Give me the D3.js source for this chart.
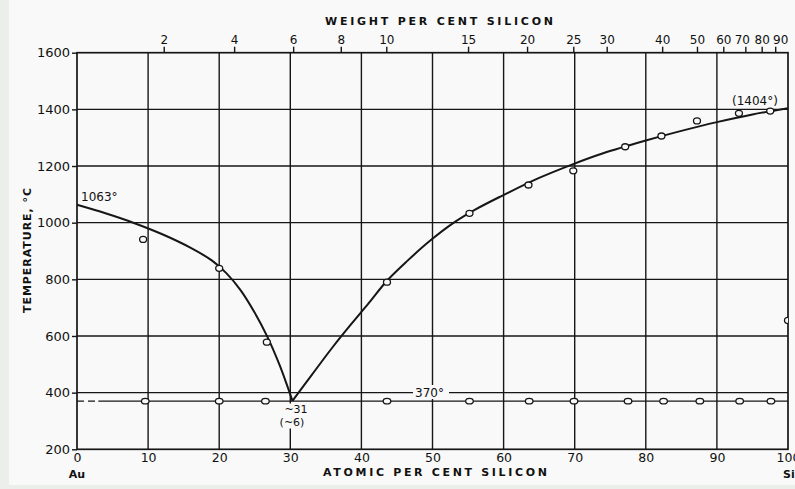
<!DOCTYPE html>
<html>
<head>
<meta charset="utf-8">
<script src="https://cdn.jsdelivr.net/npm/d3@7/dist/d3.min.js"></script>
<style>
html,body{margin:0;padding:0;background:#eceeec;}
svg{display:block;}
text{font-family:"DejaVu Sans",sans-serif;fill:#111;}
</style>
</head>
<body>
<svg id="chart" width="795" height="489"></svg>
<script>
// ---- data ----
const atomicTicks = [0,10,20,30,40,50,60,70,80,90,100];
const tempTicks = [200,400,600,800,1000,1200,1400,1600];
const weightTickLabels = [2,4,6,8,10,15,20,25,30,40,50,60,70,80,90];
// where each weight-% tick sits on the atomic-% scale
const weightTickAtomic = [12.2,22.1,30.4,37.1,43.5,55.0,63.3,69.8,74.5,82.3,87.2,90.9,94.0,96.3,98.2];
// where each weight-% label is centred (crowded ones are shifted in the original)
const weightLabelAtomic = [12.2,22.1,30.4,37.1,43.5,55.0,63.3,69.8,74.5,82.3,87.2,90.9,93.5,96.3,98.9];

// liquidus, Au-rich branch (atomic % Si, °C)
const liqLeftX = [0,4,8,12,16,19,21,23,25,26.8,28.5,29.5,30.3];
const liqLeftT = [1063,1033,999,959,911,866,822,762,682,596,497,429,371];
// liquidus, Si-rich branch
const liqRightX = [30.3,33,36,38.5,41,43.6,46.5,49.6,53,56,59.7,65,69.7,74,80,85,90,95,100];
const liqRightT = [371,462,562,640,715,795,866,935,1000,1046,1094,1158,1206,1245,1290,1324,1355,1382,1404];

// measured liquidus points
const liqPtsX = [9.3,20.0,26.7,43.6,55.2,63.5,69.8,77.1,82.2,87.2,93.1,97.5,100];
const liqPtsT = [941,839,578,790,1033,1133,1183,1268,1306,1359,1386,1394,655];

// measured eutectic points
const eutPtsX = [9.6,20.0,26.5,43.6,55.2,63.6,69.9,77.5,82.5,87.6,93.2,97.6];
const eutecticT = 370;

// ---- drawing ----
const svg = d3.select("#chart");
const W = 795, H = 489;
const bg = "#f8f9f8";
svg.append("rect").attr("x",9).attr("y",0).attr("width",W-9).attr("height",485).attr("fill",bg);

const x = d3.scaleLinear().domain([0,100]).range([77,788]);
const y = d3.scaleLinear().domain([200,1600]).range([449.3,52.7]);
const ink = "#161616";

svg.append("defs").append("clipPath").attr("id","plotclip")
  .append("rect").attr("x",x(0)).attr("y",y(1600)).attr("width",x(100)-x(0)).attr("height",y(200)-y(1600));

// grid
const g = svg.append("g");
g.selectAll("line.v").data(atomicTicks.slice(1,-1)).join("line")
  .attr("x1",d=>x(d)).attr("x2",d=>x(d)).attr("y1",y(1600)).attr("y2",y(200))
  .attr("stroke",ink).attr("stroke-width",1.4);
g.selectAll("line.h").data(tempTicks.slice(1,-1)).join("line")
  .attr("x1",x(0)).attr("x2",x(100)).attr("y1",d=>y(d)).attr("y2",d=>y(d))
  .attr("stroke",ink).attr("stroke-width",1.4);

// eutectic line: dashed at left, solid after
g.append("line").attr("x1",x(0)).attr("x2",x(3)).attr("y1",y(eutecticT)).attr("y2",y(eutecticT))
  .attr("stroke",ink).attr("stroke-width",1.4).attr("stroke-dasharray","7,4");
g.append("line").attr("x1",x(3)).attr("x2",x(100)).attr("y1",y(eutecticT)).attr("y2",y(eutecticT))
  .attr("stroke",ink).attr("stroke-width",1.4);

// frame
svg.append("rect").attr("x",x(0)).attr("y",y(1600)).attr("width",x(100)-x(0)).attr("height",y(200)-y(1600))
  .attr("fill","none").attr("stroke",ink).attr("stroke-width",1.7);

// axes
const yAxis = d3.axisLeft(y).tickValues(tempTicks).tickFormat(d3.format("d")).tickSize(5).tickPadding(2);
const ya = svg.append("g").attr("transform",`translate(${x(0)},0)`).call(yAxis);
ya.select(".domain").remove();
ya.selectAll("line").attr("stroke",ink).attr("stroke-width",1.4);
ya.selectAll("text").attr("font-size","13px").attr("font-family","DejaVu Sans").attr("fill",ink);

const xAxis = d3.axisBottom(x).tickValues(atomicTicks).tickFormat(d3.format("d")).tickSize(0).tickPadding(4);
const xa = svg.append("g").attr("transform",`translate(0,${y(200)})`).call(xAxis);
xa.select(".domain").remove();
xa.selectAll("text").attr("font-size","12.5px").attr("font-family","DejaVu Sans").attr("fill",ink);

const wAxis = d3.axisTop(x).tickValues(weightTickAtomic)
  .tickFormat((d,i)=>weightTickLabels[i]).tickSize(6).tickPadding(3);
const wa = svg.append("g").attr("transform",`translate(0,${y(1600)})`).call(wAxis);
wa.select(".domain").remove();
wa.selectAll("line").attr("stroke",ink).attr("stroke-width",1.4);
wa.selectAll("text").attr("font-size","12px").attr("font-family","DejaVu Sans").attr("fill",ink)
  .attr("x",(d,i)=>x(weightLabelAtomic[i]) - x(weightTickAtomic[i]));

// axis titles
svg.append("text").attr("x",325).attr("y",25).attr("font-size","11px").attr("font-weight","bold")
  .attr("textLength",228).attr("lengthAdjust","spacing").text("WEIGHT PER CENT SILICON");
svg.append("text").attr("x",323).attr("y",476).attr("font-size","11px").attr("font-weight","bold")
  .attr("textLength",224).attr("lengthAdjust","spacing").text("ATOMIC PER CENT SILICON");
svg.append("text").attr("transform","translate(31,313) rotate(-90)").attr("font-size","11px").attr("font-weight","bold")
  .attr("textLength",125).attr("lengthAdjust","spacing").text("TEMPERATURE, °C");
svg.append("text").attr("x",x(0)).attr("y",478).attr("text-anchor","middle").attr("font-size","11px")
  .attr("font-weight","bold").text("Au");
svg.append("text").attr("x",x(100)-5).attr("y",478).attr("font-size","11px")
  .attr("font-weight","bold").text("Si");

// liquidus curves
const line = d3.line().x(d=>x(d[0])).y(d=>y(d[1])).curve(d3.curveCatmullRom.alpha(0.5));
const leftData = liqLeftX.map((v,i)=>[v,liqLeftT[i]]);
const rightData = liqRightX.map((v,i)=>[v,liqRightT[i]]);
svg.append("path").attr("d",line(leftData)).attr("fill","none").attr("stroke",ink).attr("stroke-width",2);
svg.append("path").attr("d",line(rightData)).attr("fill","none").attr("stroke",ink).attr("stroke-width",2);

// points
const pts = svg.append("g").attr("clip-path","url(#plotclip)");
pts.selectAll("ellipse.l").data(liqPtsX.map((v,i)=>[v,liqPtsT[i]])).join("ellipse")
  .attr("cx",d=>x(d[0])).attr("cy",d=>y(d[1])).attr("rx",3.5).attr("ry",3)
  .attr("fill",bg).attr("stroke",ink).attr("stroke-width",1.3);
pts.selectAll("ellipse.e").data(eutPtsX).join("ellipse")
  .attr("cx",d=>x(d)).attr("cy",y(eutecticT)).attr("rx",3.8).attr("ry",2.8)
  .attr("fill",bg).attr("stroke",ink).attr("stroke-width",1.3);

// annotations
svg.append("text").attr("x",81).attr("y",201).attr("font-size","12px").text("1063°");
svg.append("text").attr("x",732).attr("y",105).attr("font-size","12px").text("(1404°)");

// 370° label over the 400 line
svg.append("rect").attr("x",413).attr("y",385).attr("width",36).attr("height",14).attr("fill",bg);
svg.append("text").attr("x",415).attr("y",397).attr("font-size","12px").text("370°");

// ~31 (~6) label over the 30 grid line
svg.append("rect").attr("x",278).attr("y",403.5).attr("width",30).attr("height",25).attr("fill",bg);
svg.append("text").attr("x",296).attr("y",413).attr("text-anchor","middle").attr("font-size","11px").text("~31");
svg.append("text").attr("x",292).attr("y",426).attr("text-anchor","middle").attr("font-size","11px").text("(~6)");
</script>
</body>
</html>
